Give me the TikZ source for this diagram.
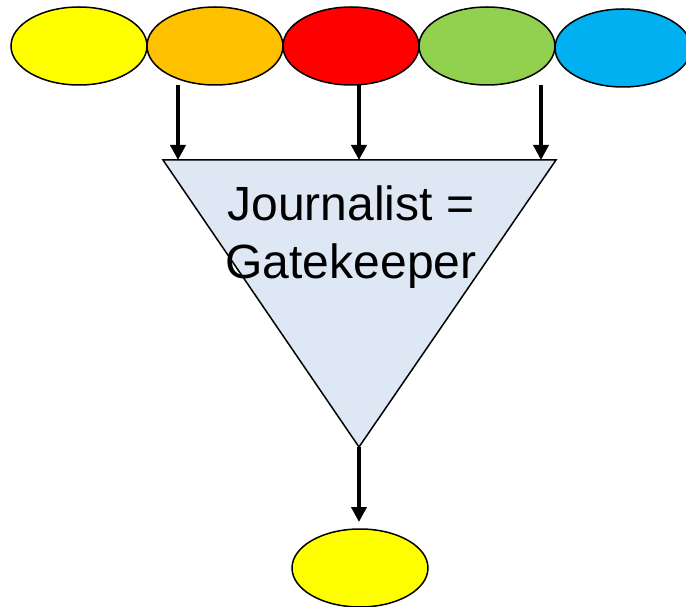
\documentclass[tikz,border=0pt]{standalone}
\usepackage{fontspec}
\setmainfont{Liberation Sans}
\usetikzlibrary{shapes.geometric,arrows.meta}
\definecolor{cyel}{HTML}{FFFF00}
\definecolor{corg}{HTML}{FFC000}
\definecolor{cred}{HTML}{FF0000}
\definecolor{cgrn}{HTML}{92D050}
\definecolor{cblu}{HTML}{00B0F0}
\definecolor{ctri}{HTML}{DEE8F4}
\tikzset{
  blob/.style={ellipse, draw=black, line width=1.5pt, minimum width=136pt, minimum height=78pt, inner sep=0pt},
  flow/.style={line width=4.5pt, -{Triangle[width=15pt,length=15pt]}}
}
\begin{document}
\begin{tikzpicture}[x=1pt,y=1pt]
\useasboundingbox (0,0) rectangle (686,606);
% top ellipses
\node[blob, fill=cyel] (e1) at (79,560) {};
\node[blob, fill=corg] (e2) at (215,560) {};
\node[blob, fill=cred] (e3) at (351,560) {};
\node[blob, fill=cgrn] (e4) at (487,560) {};
\node[blob, fill=cblu] (e5) at (623,558) {};
% triangle
\coordinate (tl) at (163,446);
\coordinate (tr) at (556,446);
\coordinate (tb) at (359,159);
\draw[line width=1.5pt, fill=ctri, line join=miter] (tl) -- (tr) -- (tb) -- cycle;
\node[align=center, font=\fontsize{48}{58}\selectfont, inner sep=0pt] (txt) at (351,369) {Journalist =\\Gatekeeper};
% arrow coordinates
\coordinate (s1) at (178,521);
\coordinate (s2) at (359,521);
\coordinate (s3) at (541,521);
\coordinate (t1) at (178,446);
\coordinate (t2) at (359,446);
\coordinate (t3) at (541,446);
\draw[flow] (s1) -- (t1);
\draw[flow] (s2) -- (t2);
\draw[flow] (s3) -- (t3);
% bottom ellipse
\node[blob, fill=cyel] (ebot) at (360,38) {};
\coordinate (bt) at (359,84);
\draw[flow] (tb) -- (bt);
\end{tikzpicture}
\end{document}
